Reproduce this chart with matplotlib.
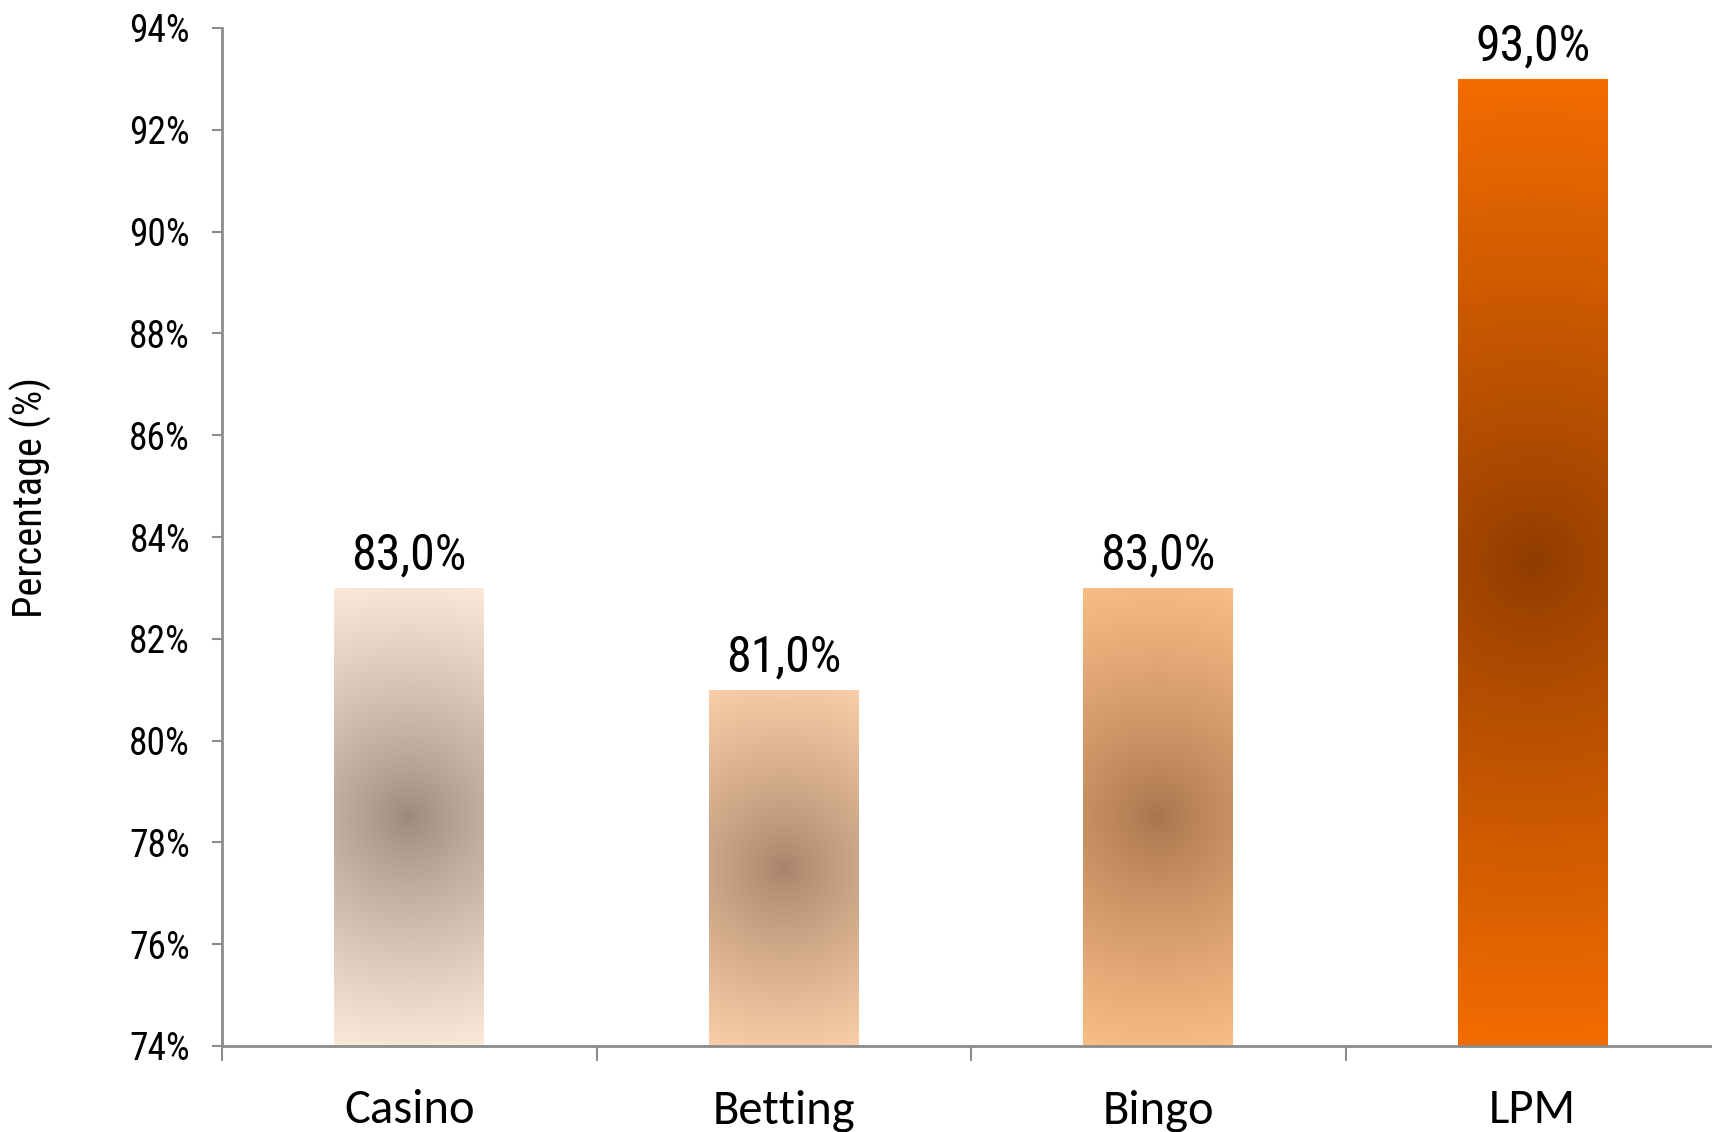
import numpy as np
import matplotlib
matplotlib.use("Agg")
import matplotlib.pyplot as plt
from matplotlib.colors import to_rgb

categories = ["Casino", "Betting", "Bingo", "LPM"]
values = [83.0, 81.0, 83.0, 93.0]
yticks = [74, 76, 78, 80, 82, 84, 86, 88, 90, 92, 94]

# edge colour and centre colour of each bar's radial gradient
edge_colors = ["#fbe9d9", "#f9cea8", "#f9bd86", "#f36c00"]
center_colors = ["#9a897a", "#a6836a", "#a8744c", "#8e3b00"]

narrow = ["Roboto Condensed", "DejaVu Sans"]
calibri = ["Carlito", "DejaVu Sans"]
grey = "#8c8c8c"

fig = plt.figure(figsize=(17.12, 11.32), dpi=100)
ax = fig.add_axes([222 / 1712, 1 - 1046 / 1132, 1498 / 1712, (1046 - 28) / 1132])

x = np.arange(len(categories))
bars = ax.bar(x, [v - 74 for v in values], bottom=74, width=0.4,
              color="none", edgecolor="none", zorder=2)

ax.set_xlim(-0.5, 3.5)
ax.set_ylim(74, 94)

fig.canvas.draw()
for i, bar in enumerate(bars):
    x0, y0 = bar.get_x(), bar.get_y()
    w, h = bar.get_width(), bar.get_height()
    p0 = ax.transData.transform((x0, y0))
    p1 = ax.transData.transform((x0 + w, y0 + h))
    wpx, hpx = int(abs(p1[0] - p0[0])), int(abs(p1[1] - p0[1]))
    xx, yy = np.meshgrid(np.linspace(-wpx / 2, wpx / 2, wpx),
                         np.linspace(-hpx / 2, hpx / 2, hpx))
    R = np.hypot(wpx / 2, hpx / 2)
    t = np.clip(np.hypot(xx, yy) / R, 0, 1) ** 0.8
    c0, c1 = np.array(to_rgb(center_colors[i])), np.array(to_rgb(edge_colors[i]))
    img = c0 + (c1 - c0) * t[..., None]
    im = ax.imshow(img, extent=(x0, x0 + w, y0, y0 + h), origin="lower",
                   aspect="auto", zorder=1, interpolation="bilinear")
    im.set_clip_path(bar)
    ax.annotate(f"{values[i]:.1f}%".replace(".", ","),
                (x0 + w / 2, y0 + h), xytext=(0, 13), textcoords="offset points",
                ha="center", va="baseline", fontsize=36, family=narrow)

ax.set_xlim(-0.5, 3.5)
ax.set_ylim(74, 94)

ax.set_yticks(yticks)
ax.set_yticklabels([f"{t}%" for t in yticks], family=narrow, fontsize=27)
ax.tick_params(axis="y", length=7, width=1.5, color=grey, pad=16)

ax.set_xticks(x)
ax.set_xticklabels(categories, family=calibri, fontsize=35)
ax.set_xticks(np.arange(-0.5, 4, 1), minor=True)
ax.tick_params(axis="x", which="major", length=0, pad=31)
ax.tick_params(axis="x", which="minor", length=11, width=1.5, color=grey)

for s in ["top", "right"]:
    ax.spines[s].set_visible(False)
for s in ["left", "bottom"]:
    ax.spines[s].set_color(grey)
    ax.spines[s].set_linewidth(2)

fig.text(31 / 1712, 1 - 497 / 1132, "Percentage (%)", rotation=90,
         ha="center", va="center", fontsize=29, family=narrow)

fig.savefig("out.png", dpi=100)
